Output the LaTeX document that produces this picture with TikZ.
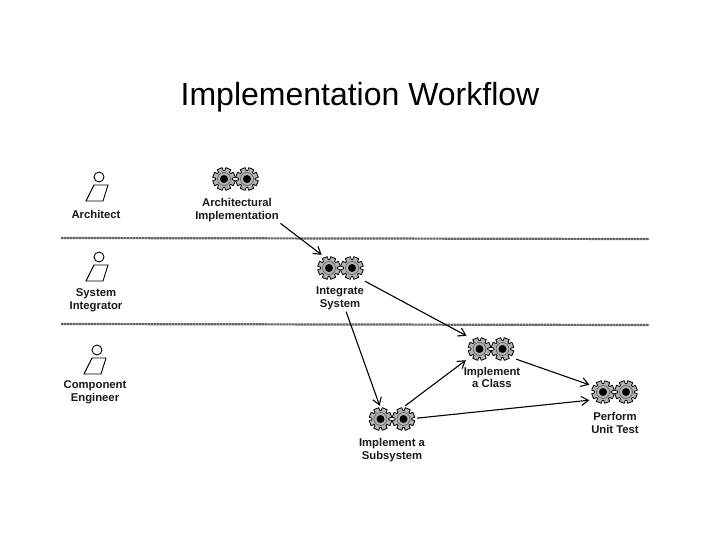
\documentclass[tikz,border=0pt]{standalone}
\usepackage{fontspec}
\setmainfont{Liberation Sans}
\usetikzlibrary{arrows.meta}
\tikzset{
  gear/.pic = {
    \filldraw[fill=gray!60, draw=black, line width=0.8pt, line join=round]
      (0:8)
      \foreach \a in {0,45,...,315} {
        -- (\a+5:8.5) -- (\a+9:11.5) -- (\a+36:11.5) -- (\a+40:8.5)
      } -- cycle;
    \filldraw[fill=gray!60, draw=black!70, line width=0.5pt] (0,0) circle (6.5pt);
    \fill[black] (0,0) circle (4pt);
  },
  gearpair/.pic = {
    \pic at (-11.5,0) {gear};
    \pic at (11.5,0) {gear};
    \node[gearbox] (-box) at (0,0) {};
  },
  actor/.pic = {
    \draw[line width=0.9pt] (0,0) circle (5pt);
    \draw[line width=0.9pt] (-5,8) -- (9,8) -- (4,24) -- (-13,24) -- cycle;
  }
}
\begin{document}
\begin{tikzpicture}[x=1pt, y=-1pt,
                    gearbox/.style = {minimum width=50pt, minimum height=26pt, inner sep=0pt},
                    label/.style = {align=center, inner sep=1.5pt, text=black!90,
                      font=\fontsize{11.3}{12.8}\selectfont\bfseries},
                    flow/.style = {-{Straight Barb[length=7pt,width=9pt]}, line width=1.1pt, black},
                    lane/.style = {line width=2.2pt, black!60, dash pattern=on 2.5pt off 0.5pt}]
  \useasboundingbox (0,0) rectangle (720,540);
  \node[font=\fontsize{32}{36}\selectfont] (title) at (360,97) {Implementation Workflow};
  % the lanes
  \coordinate (laneaw) at (61,238);
  \coordinate (laneae) at (649,239);
  \coordinate (lanebw) at (61,324);
  \coordinate (lanebe) at (649,325);
  \draw[lane] (laneaw) -- (laneae);
  \draw[lane] (lanebw) -- (lanebe);
  % the workers
  \pic at (99,177) {actor};
  \node[label] (architect) at (96,214) {Architect};
  \pic at (99,257) {actor};
  \node[label] (integrator) at (96,300) {System\\Integrator};
  \pic at (97,350) {actor};
  \node[label] (engineer) at (95,392) {Component\\Engineer};
  % the activities
  \pic (arch) at (235.5,179) {gearpair};
  \node[label] (archlabel) at (237,210) {Architectural\\Implementation};
  \pic (int) at (340.5,268) {gearpair};
  \node[label] (intlabel) at (340,298.5) {Integrate\\System};
  \pic (class) at (491,349) {gearpair};
  \node[label] (classlabel) at (492,377.5) {Implement\\a Class};
  \pic (sub) at (392,419) {gearpair};
  \node[label] (sublabel) at (392,450) {Implement a\\Subsystem};
  \pic (test) at (614.5,392) {gearpair};
  \node[label] (testlabel) at (615,423) {Perform\\Unit Test};
  % the flows
  \draw[flow] (archlabel.south east) -- (int-box.145);
  \draw[flow] (int-box) -- (class-box);
  \draw[flow] (intlabel.-65) -- (sub-box.133);
  \draw[flow] (sub-box.45) -- (class-box.204);
  \draw[flow] (class-box.-22) -- (test-box.164);
  \draw[flow] (sub-box.2) -- (test-box.198);
\end{tikzpicture}
\end{document}
